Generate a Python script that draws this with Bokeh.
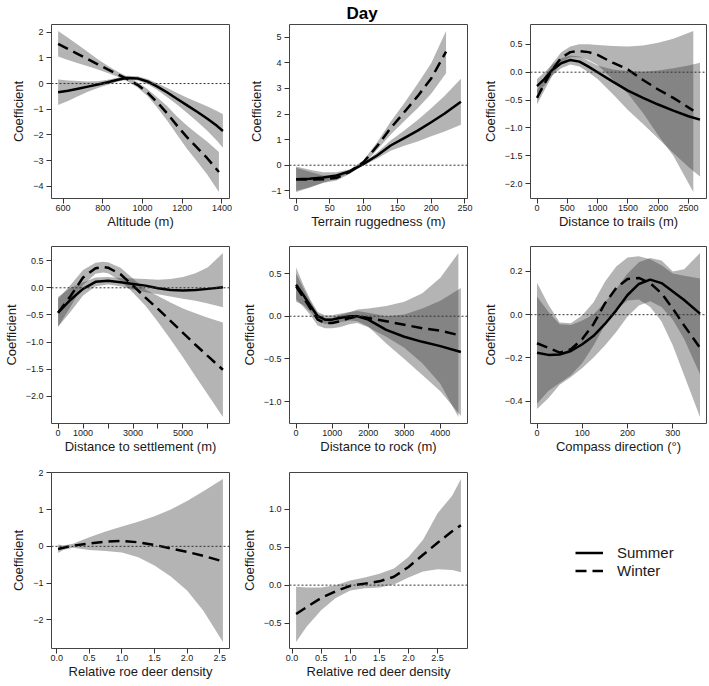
import numpy as np
from bokeh.plotting import figure
from bokeh.layouts import gridplot
from bokeh.models import Range1d, FixedTicker, Span, Legend, LegendItem
from bokeh.embed import file_html
from bokeh.resources import INLINE

FONT = "Liberation Sans"
M = "\u2212"

# ---------------- data ----------------
# Panel 1: Altitude (m)
alt_x_s = [575, 625, 675, 725, 775, 825, 875, 925, 975, 1025, 1075, 1125, 1175, 1225, 1275, 1325, 1375, 1405]
alt_s = [-0.34, -0.28, -0.2, -0.12, -0.04, 0.05, 0.15, 0.22, 0.2, 0.08, -0.12, -0.35, -0.6, -0.85, -1.1, -1.36, -1.65, -1.85]
alt_s_up = [0.16, 0.12, 0.1, 0.08, 0.09, 0.15, 0.23, 0.3, 0.28, 0.18, 0.01, -0.17, -0.37, -0.55, -0.72, -0.89, -1.07, -1.2]
alt_s_lo = [-0.84, -0.68, -0.5, -0.32, -0.17, -0.05, 0.07, 0.16, 0.12, -0.02, -0.25, -0.53, -0.83, -1.15, -1.48, -1.83, -2.23, -2.5]
alt_x_w = [575, 625, 675, 725, 775, 825, 875, 925, 975, 1025, 1075, 1125, 1175, 1225, 1275, 1325, 1385]
alt_w = [1.55, 1.35, 1.15, 0.95, 0.75, 0.55, 0.36, 0.17, -0.05, -0.35, -0.74, -1.17, -1.65, -2.1, -2.5, -2.9, -3.45]
alt_w_up = [2.05, 1.78, 1.51, 1.23, 0.95, 0.69, 0.46, 0.26, 0.05, -0.21, -0.54, -0.89, -1.29, -1.65, -1.96, -2.26, -2.67]
alt_w_lo = [1.05, 0.92, 0.79, 0.67, 0.55, 0.41, 0.26, 0.08, -0.15, -0.49, -0.94, -1.45, -2.01, -2.55, -3.04, -3.54, -4.23]
alt_xticks = [600, 800, 1000, 1200, 1400]
alt_xlabels = ["600", "800", "1000", "1200", "1400"]
alt_yticks = [-4, -3, -2, -1, 0, 1, 2]
alt_ylabels = [M + "4", M + "3", M + "2", M + "1", "0", "1", "2"]

# Panel 2: Terrain ruggedness (m)
rug_x_s = [0, 20, 40, 60, 80, 100, 120, 140, 160, 180, 200, 220, 244]
rug_s = [-0.55, -0.53, -0.48, -0.4, -0.23, 0.05, 0.38, 0.77, 1.06, 1.35, 1.68, 2.02, 2.48]
rug_s_up = [-0.05, -0.18, -0.28, -0.28, -0.16, 0.11, 0.5, 0.97, 1.36, 1.77, 2.23, 2.72, 3.38]
rug_s_lo = [-1.05, -0.88, -0.68, -0.52, -0.3, -0.01, 0.26, 0.57, 0.76, 0.93, 1.13, 1.32, 1.58]
rug_x_w = [0, 20, 40, 60, 80, 100, 120, 140, 160, 180, 200, 222]
rug_w = [-0.55, -0.56, -0.55, -0.5, -0.25, 0.12, 0.75, 1.45, 2.07, 2.7, 3.39, 4.44]
rug_w_up = [-0.1, -0.26, -0.4, -0.4, -0.17, 0.2, 0.9, 1.7, 2.42, 3.19, 3.99, 5.25]
rug_w_lo = [-1.0, -0.86, -0.7, -0.6, -0.33, 0.04, 0.6, 1.2, 1.72, 2.23, 2.79, 3.6]
rug_xticks = [0, 50, 100, 150, 200, 250]
rug_xlabels = ["0", "50", "100", "150", "200", "250"]
rug_yticks = [-1, 0, 1, 2, 3, 4, 5]
rug_ylabels = [M + "1", "0", "1", "2", "3", "4", "5"]

# Panel 3: Distance to trails (m)
trl_x_s = [0, 125, 250, 400, 550, 700, 850, 1000, 1250, 1500, 1750, 2000, 2250, 2500, 2690]
trl_s = [-0.25, -0.12, 0.04, 0.16, 0.22, 0.19, 0.1, 0.0, -0.17, -0.33, -0.46, -0.58, -0.69, -0.79, -0.85]
trl_s_up = [-0.12, 0.0, 0.14, 0.25, 0.3, 0.28, 0.2, 0.12, 0.05, 0.02, 0.01, 0.03, 0.07, 0.12, 0.17]
trl_s_lo = [-0.38, -0.24, -0.06, 0.07, 0.14, 0.1, 0.0, -0.12, -0.39, -0.68, -0.93, -1.19, -1.45, -1.7, -1.87]
trl_x_w = [0, 125, 250, 400, 550, 700, 850, 1000, 1250, 1500, 1750, 2000, 2250, 2580]
trl_w = [-0.46, -0.2, 0.04, 0.26, 0.36, 0.38, 0.36, 0.31, 0.17, 0.05, -0.14, -0.31, -0.46, -0.69]
trl_w_up = [-0.33, -0.08, 0.15, 0.36, 0.46, 0.5, 0.5, 0.49, 0.47, 0.46, 0.48, 0.53, 0.6, 0.74]
trl_w_lo = [-0.58, -0.32, -0.07, 0.17, 0.27, 0.27, 0.22, 0.13, -0.13, -0.38, -0.73, -1.13, -1.5, -2.15]
trl_xticks = [0, 500, 1000, 1500, 2000, 2500]
trl_xlabels = ["0", "500", "1000", "1500", "2000", "2500"]
trl_yticks = [-2.0, -1.5, -1.0, -0.5, 0.0, 0.5]
trl_ylabels = [M + "2.0", M + "1.5", M + "1.0", M + "0.5", "0.0", "0.5"]

# Panel 4: Distance to settlement (m)
set_x_s = [0, 500, 1000, 1500, 2000, 2500, 3000, 3500, 4000, 4500, 5000, 5500, 6000, 6600]
set_s = [-0.46, -0.22, -0.02, 0.11, 0.13, 0.1, 0.07, 0.04, -0.01, -0.04, -0.05, -0.04, -0.02, 0.01]
set_s_up = [-0.17, 0.0, 0.1, 0.19, 0.2, 0.18, 0.17, 0.16, 0.15, 0.16, 0.2, 0.27, 0.38, 0.64]
set_s_lo = [-0.72, -0.44, -0.14, 0.03, 0.06, 0.03, -0.03, -0.08, -0.12, -0.16, -0.2, -0.24, -0.29, -0.36]
set_x_w = [0, 500, 1000, 1500, 1800, 2000, 2500, 3000, 3500, 4000, 4500, 5000, 5500, 6000, 6600]
set_w = [-0.46, -0.15, 0.19, 0.36, 0.38, 0.37, 0.25, 0.04, -0.18, -0.39, -0.61, -0.83, -1.05, -1.26, -1.51]
set_w_up = [-0.2, 0.05, 0.33, 0.46, 0.48, 0.47, 0.37, 0.17, -0.03, -0.15, -0.27, -0.38, -0.47, -0.55, -0.64]
set_w_lo = [-0.72, -0.35, 0.05, 0.26, 0.28, 0.27, 0.13, -0.09, -0.33, -0.63, -0.95, -1.28, -1.63, -1.97, -2.38]
set_xticks = [0, 1000, 2000, 3000, 4000, 5000, 6000]
set_xlabels = ["0", "1000", "", "3000", "", "5000", ""]
set_yticks = [-2.0, -1.5, -1.0, -0.5, 0.0, 0.5]
set_ylabels = [M + "2.0", M + "1.5", M + "1.0", M + "0.5", "0.0", "0.5"]

# Panel 5: Distance to rock (m)
rck_x_s = [0, 200, 400, 600, 800, 1000, 1200, 1500, 1700, 2000, 2500, 3000, 3500, 4000, 4570]
rck_s = [0.37, 0.25, 0.12, 0.0, -0.04, -0.04, -0.02, 0.0, 0.0, -0.04, -0.16, -0.24, -0.3, -0.35, -0.42]
rck_s_up = [0.57, 0.37, 0.19, 0.05, 0.01, 0.01, 0.03, 0.05, 0.06, 0.04, 0.0, 0.02, 0.09, 0.18, 0.33]
rck_s_lo = [0.17, 0.13, 0.05, -0.05, -0.09, -0.09, -0.07, -0.05, -0.06, -0.12, -0.32, -0.5, -0.69, -0.88, -1.17]
rck_x_w = [0, 200, 400, 600, 800, 1000, 1200, 1500, 1700, 2000, 2500, 3000, 3500, 4000, 4500]
rck_w = [0.35, 0.22, 0.09, -0.04, -0.08, -0.08, -0.06, -0.02, 0.0, -0.02, -0.06, -0.1, -0.14, -0.17, -0.22]
rck_w_up = [0.5, 0.33, 0.17, 0.03, -0.02, -0.02, 0.01, 0.05, 0.08, 0.09, 0.12, 0.17, 0.27, 0.45, 0.74]
rck_w_lo = [0.2, 0.11, 0.01, -0.11, -0.14, -0.14, -0.13, -0.09, -0.08, -0.13, -0.24, -0.37, -0.55, -0.79, -1.18]
rck_xticks = [0, 1000, 2000, 3000, 4000]
rck_xlabels = ["0", "1000", "2000", "3000", "4000"]
rck_yticks = [-1.0, -0.5, 0.0, 0.5]
rck_ylabels = [M + "1.0", M + "0.5", "0.0", "0.5"]

# Panel 6: Compass direction
cmp_x = [0, 25, 50, 75, 100, 125, 150, 175, 200, 225, 250, 275, 300, 325, 360]
cmp_s = [-0.176, -0.186, -0.184, -0.168, -0.137, -0.098, -0.043, 0.02, 0.091, 0.142, 0.162, 0.146, 0.107, 0.068, 0.005]
cmp_s_up = [0.084, 0.014, -0.044, -0.048, -0.027, 0.002, 0.057, 0.12, 0.191, 0.242, 0.262, 0.25, 0.2, 0.21, 0.285]
cmp_s_lo = [-0.436, -0.386, -0.324, -0.288, -0.247, -0.198, -0.143, -0.08, -0.009, 0.042, 0.062, 0.036, -0.023, -0.112, -0.275]
cmp_w = [-0.132, -0.153, -0.176, -0.16, -0.113, -0.043, 0.052, 0.123, 0.165, 0.17, 0.146, 0.099, 0.028, -0.05, -0.153]
cmp_w_up = [0.148, 0.047, -0.036, -0.04, -0.003, 0.057, 0.152, 0.223, 0.265, 0.27, 0.256, 0.229, 0.19, 0.18, 0.167]
cmp_w_lo = [-0.412, -0.353, -0.316, -0.28, -0.223, -0.143, -0.048, 0.023, 0.065, 0.07, 0.036, -0.031, -0.142, -0.28, -0.473]
cmp_xticks = [0, 100, 200, 300]
cmp_xlabels = ["0", "100", "200", "300"]
cmp_yticks = [-0.4, -0.2, 0.0, 0.2]
cmp_ylabels = [M + "0.4", M + "0.2", "0.0", "0.2"]

# Panel 7: Relative roe deer density (winter only)
roe_x = [0.02, 0.1, 0.25, 0.5, 0.75, 1.0, 1.25, 1.5, 1.75, 2.0, 2.25, 2.55]
roe_w = [-0.07, -0.04, 0.02, 0.08, 0.13, 0.15, 0.11, 0.04, -0.06, -0.15, -0.26, -0.41]
roe_w_up = [0.05, 0.02, 0.07, 0.25, 0.4, 0.54, 0.67, 0.82, 1.0, 1.23, 1.5, 1.83]
roe_w_lo = [-0.18, -0.1, -0.04, -0.1, -0.13, -0.17, -0.3, -0.52, -0.82, -1.2, -1.75, -2.6]
roe_xticks = [0.0, 0.5, 1.0, 1.5, 2.0, 2.5]
roe_xlabels = ["0.0", "0.5", "1.0", "1.5", "2.0", "2.5"]
roe_yticks = [-2, -1, 0, 1, 2]
roe_ylabels = [M + "2", M + "1", "0", "1", "2"]

# Panel 8: Relative red deer density (winter only)
red_x = [0.07, 0.25, 0.5, 0.75, 1.0, 1.25, 1.5, 1.75, 2.0, 2.25, 2.5, 2.75, 2.9]
red_w = [-0.38, -0.29, -0.17, -0.08, -0.01, 0.02, 0.05, 0.11, 0.24, 0.4, 0.56, 0.71, 0.79]
red_w_up = [-0.02, -0.03, -0.03, 0.0, 0.06, 0.1, 0.15, 0.22, 0.37, 0.6, 0.95, 1.18, 1.4]
red_w_lo = [-0.75, -0.55, -0.33, -0.17, -0.07, -0.04, -0.03, 0.01, 0.1, 0.18, 0.21, 0.2, 0.17]
red_xticks = [0.0, 0.5, 1.0, 1.5, 2.0, 2.5]
red_xlabels = ["0.0", "0.5", "1.0", "1.5", "2.0", "2.5"]
red_yticks = [-0.5, 0.0, 0.5, 1.0]
red_ylabels = [M + "0.5", "0.0", "0.5", "1.0"]

legend_labels = ["Summer", "Winter"]
title_text = "Day"

# ---------------- layout geometry (page origin at 0,0) ----------------
COL_L = [47, 46, 46]
COL_F = [182, 183, 181]
COL_R = [9, 12, 2]
ROW_T = [23, 15, 16]
ROW_F = [175, 177, 176]
ROW_B = [33, 33, 33]

BAND = "#333333"
BAND_ALPHA = 0.37
DASH = "11 6"
LW = 2.5
TXT = "#1a1a1a"


def new_fig(col, row, xr, yr):
    p = figure(width=COL_L[col] + COL_F[col] + COL_R[col],
               height=ROW_T[row] + ROW_F[row] + ROW_B[row],
               x_range=xr, y_range=yr,
               output_backend="svg", toolbar_location=None, tools="")
    p.min_border_left = COL_L[col]
    p.min_border_right = COL_R[col]
    p.min_border_top = ROW_T[row]
    p.min_border_bottom = ROW_B[row]
    p.background_fill_color = "white"
    p.border_fill_color = "white"
    p.grid.visible = False
    return p


def make_panel(col, row, xlabel, series, xticks, xlabels, yticks, ylabels):
    xs_all = [v for s in series for v in s[0]]
    ys_all = [v for s in series for v in list(s[2]) + list(s[3])]
    x0, x1 = min(xs_all), max(xs_all)
    y0, y1 = min(ys_all), max(ys_all)
    dx, dy = (x1 - x0) * 0.04, (y1 - y0) * 0.04
    p = new_fig(col, row, Range1d(x0 - dx, x1 + dx), Range1d(y0 - dy, y1 + dy))
    p.outline_line_color = "#444444"
    p.outline_line_width = 1
    for (x, y, up, lo, dash) in series:
        p.varea(x=x, y1=lo, y2=up, fill_color=BAND, fill_alpha=BAND_ALPHA)
    for (x, y, up, lo, dash) in series:
        p.line(x=x, y=y, line_color="black", line_width=LW,
               line_dash=DASH if dash else "solid")
    p.add_layout(Span(location=0, dimension="width", line_color="#333333",
                      line_width=1, line_dash="2 2"))
    p.xaxis.ticker = FixedTicker(ticks=xticks)
    p.yaxis.ticker = FixedTicker(ticks=yticks)
    p.xaxis.major_label_overrides = {t: l for t, l in zip(xticks, xlabels)}
    p.yaxis.major_label_overrides = {t: l for t, l in zip(yticks, ylabels)}
    p.xaxis.axis_label = xlabel
    p.yaxis.axis_label = "Coefficient"
    for ax in (p.xaxis, p.yaxis):
        ax.axis_line_color = None
        ax.major_tick_out = 5
        ax.major_tick_in = 0
        ax.major_tick_line_color = "#333333"
        ax.minor_tick_line_color = None
        ax.major_label_text_font = FONT
        ax.major_label_text_font_size = "9px"
        ax.major_label_text_color = TXT
        ax.axis_label_text_font = FONT
        ax.axis_label_text_font_size = "13px"
        ax.axis_label_text_font_style = "normal"
        ax.axis_label_text_color = TXT
    p.xaxis.major_label_standoff = 1
    p.xaxis.axis_label_standoff = 0
    p.yaxis.major_label_standoff = 3
    p.yaxis.axis_label_standoff = 4
    p.yaxis.major_label_orientation = "horizontal"
    return p


p1 = make_panel(0, 0, "Altitude (m)",
                [(alt_x_s, alt_s, alt_s_up, alt_s_lo, False), (alt_x_w, alt_w, alt_w_up, alt_w_lo, True)],
                alt_xticks, alt_xlabels, alt_yticks, alt_ylabels)
p2 = make_panel(1, 0, "Terrain ruggedness (m)",
                [(rug_x_s, rug_s, rug_s_up, rug_s_lo, False), (rug_x_w, rug_w, rug_w_up, rug_w_lo, True)],
                rug_xticks, rug_xlabels, rug_yticks, rug_ylabels)
p3 = make_panel(2, 0, "Distance to trails (m)",
                [(trl_x_s, trl_s, trl_s_up, trl_s_lo, False), (trl_x_w, trl_w, trl_w_up, trl_w_lo, True)],
                trl_xticks, trl_xlabels, trl_yticks, trl_ylabels)
p4 = make_panel(0, 1, "Distance to settlement (m)",
                [(set_x_s, set_s, set_s_up, set_s_lo, False), (set_x_w, set_w, set_w_up, set_w_lo, True)],
                set_xticks, set_xlabels, set_yticks, set_ylabels)
p5 = make_panel(1, 1, "Distance to rock (m)",
                [(rck_x_s, rck_s, rck_s_up, rck_s_lo, False), (rck_x_w, rck_w, rck_w_up, rck_w_lo, True)],
                rck_xticks, rck_xlabels, rck_yticks, rck_ylabels)
p6 = make_panel(2, 1, "Compass direction (\u00b0)",
                [(cmp_x, cmp_s, cmp_s_up, cmp_s_lo, False), (cmp_x, cmp_w, cmp_w_up, cmp_w_lo, True)],
                cmp_xticks, cmp_xlabels, cmp_yticks, cmp_ylabels)
p7 = make_panel(0, 2, "Relative roe deer density",
                [(roe_x, roe_w, roe_w_up, roe_w_lo, True)],
                roe_xticks, roe_xlabels, roe_yticks, roe_ylabels)
p8 = make_panel(1, 2, "Relative red deer density",
                [(red_x, red_w, red_w_up, red_w_lo, True)],
                red_xticks, red_xlabels, red_yticks, red_ylabels)

# title "Day" above the middle panel, shifted so it is centred on the page
p2.title.text = title_text
p2.title.align = "left"
p2.title.offset = 57
p2.title.standoff = 3
p2.title.text_font = FONT
p2.title.text_font_size = "17px"
p2.title.text_font_style = "bold"
p2.title.text_color = "black"

# legend panel (legend renderers reuse panel-1 data, which lies outside this empty frame)
p9 = new_fig(2, 2, Range1d(0, 1), Range1d(0, 1))
p9.outline_line_color = None
p9.axis.visible = False
r_s = p9.line(x=alt_x_s, y=alt_s, line_color="black", line_width=LW)
r_w = p9.line(x=alt_x_w, y=alt_w, line_color="black", line_width=LW, line_dash=DASH)
leg = Legend(items=[LegendItem(label=legend_labels[0], renderers=[r_s]),
                    LegendItem(label=legend_labels[1], renderers=[r_w])],
             location=(45, 69), orientation="vertical")
leg.border_line_color = None
leg.background_fill_alpha = 0
leg.padding = 0
leg.margin = 0
leg.spacing = 1
leg.glyph_width = 28
leg.glyph_height = 17
leg.label_standoff = 14
leg.label_text_font = FONT
leg.label_text_font_size = "15px"
leg.label_text_color = TXT
leg.label_height = 17
p9.add_layout(leg, "center")

grid = gridplot([[p1, p2, p3], [p4, p5, p6], [p7, p8, p9]], toolbar_location=None)

open("out.html", "w").write(file_html(grid, INLINE))
